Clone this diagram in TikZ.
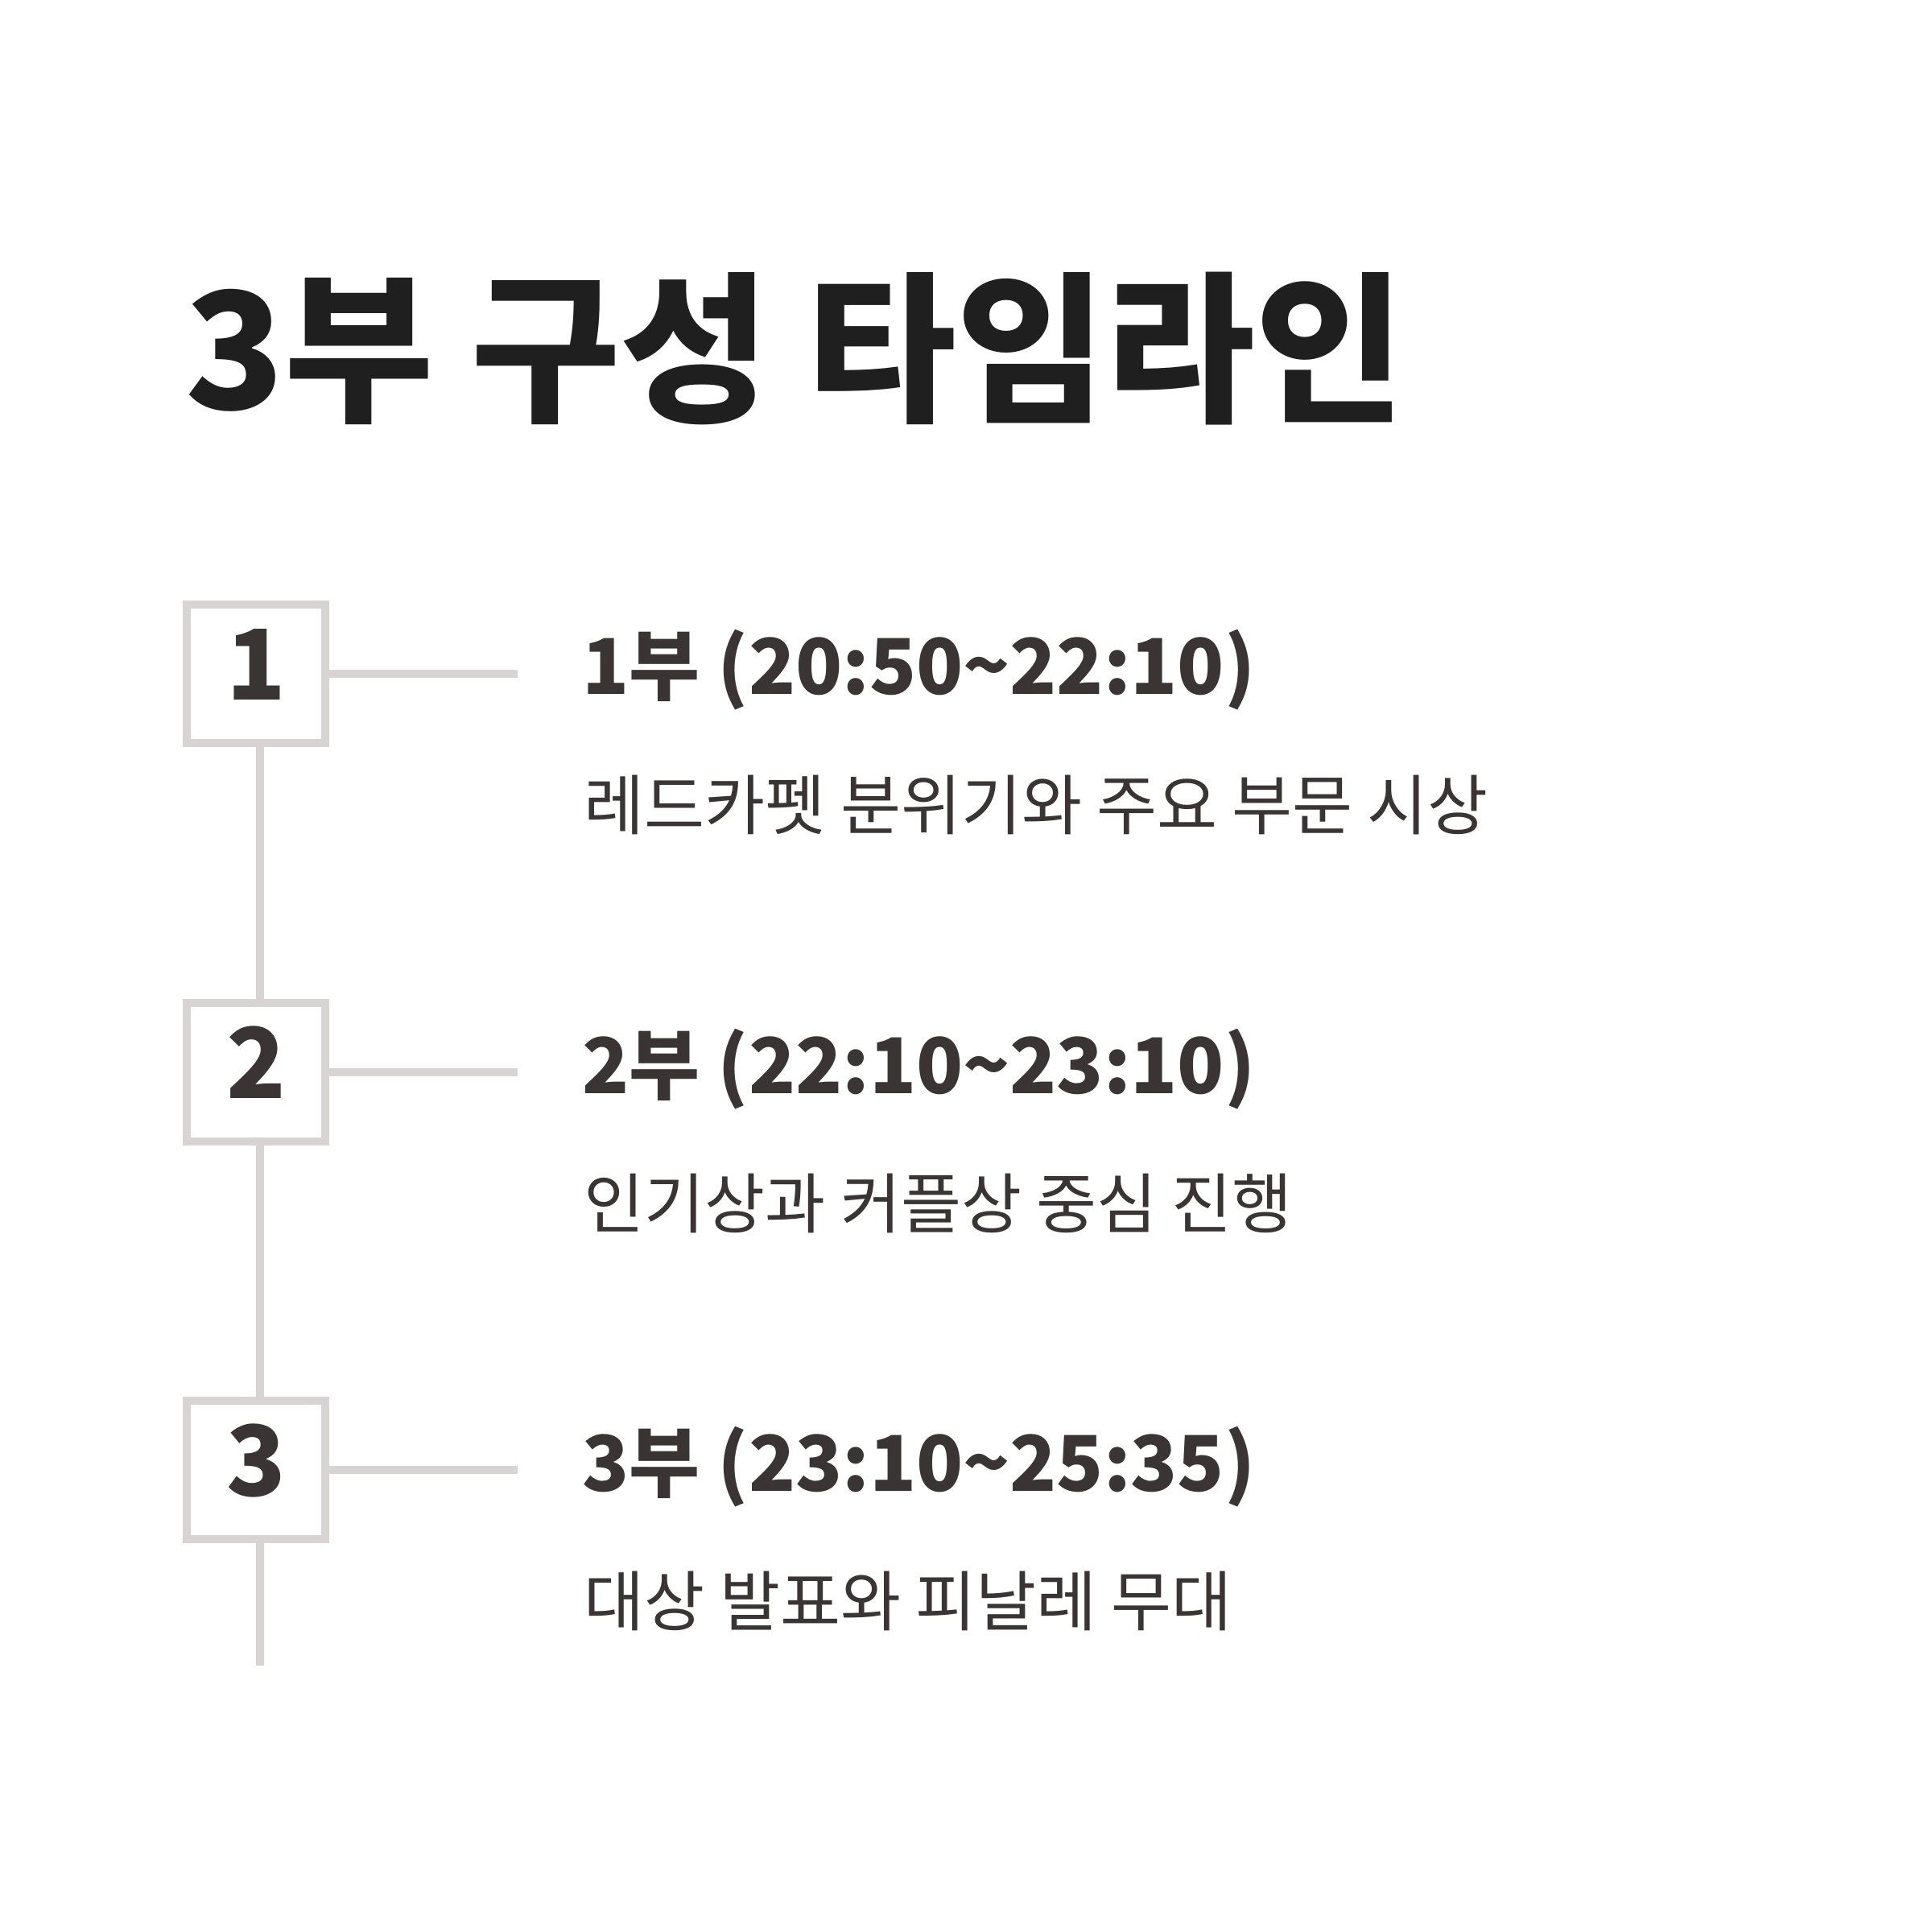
\documentclass[tikz,border=0pt]{standalone}
\usepackage{fontspec}
\setmainfont{Noto Sans CJK KR}
\usetikzlibrary{positioning}
\definecolor{LineGrey}{HTML}{D8D4D4}
\definecolor{Ink}{HTML}{3A3434}
\definecolor{TitleInk}{HTML}{1F1F1F}

\begin{document}
\begin{tikzpicture}[
    numbox/.style={draw=LineGrey, line width=1mm, fill=white, minimum size=1.72cm,
        inner sep=0pt, text depth=0.24cm, text=Ink,
        font=\fontsize{34.5}{34.5}\selectfont\bfseries},
    link/.style={LineGrey, line width=1mm},
    titlelbl/.style={anchor=base west, inner sep=0pt, text=TitleInk,
        font=\fontsize{57.4}{57.4}\selectfont\bfseries},
    headlbl/.style={anchor=base west, inner sep=0pt, text=Ink,
        font=\fontsize{27.2}{27.2}\selectfont\bfseries},
    sublbl/.style={anchor=base west, inner sep=0pt, text=Ink,
        font=\fontsize{23.2}{23.2}\selectfont}
]
\fill[white] (0,0) rectangle (24,-24);
\useasboundingbox (0,0) rectangle (24,-24);

% =============================================
% Title
% =============================================
\node[titlelbl] (title) at (2.30,-5.09) {3부 구성 타임라인};

% =============================================
% Step boxes
% =============================================
\node[numbox] (n1) at (3.18,-8.37) {1};
\node[numbox] (n2) at (3.18,-13.32) {2};
\node[numbox] (n3) at (3.18,-18.26) {3};

\coordinate (tail) at (3.23,-20.69);
\coordinate (t1) at (6.43,-8.37);
\coordinate (t2) at (6.43,-13.32);
\coordinate (t3) at (6.43,-18.26);

% spine
\draw[link] ([xshift=0.05cm]n1.south) -- ([xshift=0.05cm]n2.north);
\draw[link] ([xshift=0.05cm]n2.south) -- ([xshift=0.05cm]n3.north);
\draw[link] ([xshift=0.05cm]n3.south) -- (tail);

% ticks
\draw[link] (n1.east) -- (t1);
\draw[link] (n2.east) -- (t2);
\draw[link] (n3.east) -- (t3);

% =============================================
% Labels
% =============================================
\node[headlbl] (h1) at (7.23,-8.63) {1부 (20:50\textasciitilde 22:10)};
\node[sublbl]  (s1) at (7.25,-10.30) {레드카펫 분위기와 주요 부문 시상};

\node[headlbl] (h2) at (7.23,-13.58) {2부 (22:10\textasciitilde 23:10)};
\node[sublbl]  (s2) at (7.25,-15.25) {인기상과 커플상 중심 진행};

\node[headlbl] (h3) at (7.23,-18.52) {3부 (23:10\textasciitilde 25:35)};
\node[sublbl]  (s3) at (7.25,-20.19) {대상 발표와 피날레 무대};

\end{tikzpicture}
\end{document}
